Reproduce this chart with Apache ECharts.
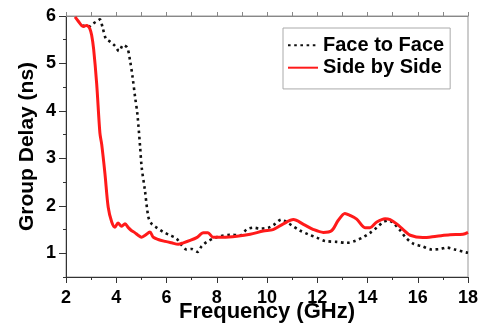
<html>
<head>
<script src="https://cdn.jsdelivr.net/npm/echarts@6/dist/echarts.min.js"></script>
<style>
  body { margin: 0; background: #fff; }
  #chart { width: 486px; height: 330px; }
</style>
</head>
<body>
<div id="chart"></div>
<script>
// Face to Face (dotted black)
var faceFreq = [2.65, 2.89, 3.08, 3.29, 3.35, 3.46, 3.59, 3.75, 3.95, 4.11, 4.28, 4.44, 4.55, 4.65, 4.75, 4.84, 4.95,
    5.01, 5.14, 5.28, 5.41, 5.61, 5.87, 6.14, 6.4, 6.6, 6.8, 7.0, 7.24, 7.4, 7.6, 7.86, 8.13, 8.53, 8.93, 9.19, 9.46,
    9.72, 10.05, 10.25, 10.58, 10.78, 10.98, 11.31, 11.64, 11.98, 12.31, 12.78, 13.17, 13.5, 13.83, 14.1, 14.37,
    14.63, 14.83, 15.03, 15.3, 15.56, 15.83, 16.16, 16.56, 16.89, 17.15, 17.48, 17.82, 18.0];
var faceDelay = [5.8, 5.77, 5.84, 5.91, 5.93, 5.75, 5.52, 5.46, 5.37, 5.26, 5.39, 5.33, 5.06, 4.71, 4.29, 3.94, 3.24,
    2.82, 2.33, 1.76, 1.62, 1.54, 1.45, 1.38, 1.31, 1.17, 1.08, 1.09, 1.03, 1.15, 1.24, 1.31, 1.36, 1.39, 1.38, 1.5, 1.54,
    1.52, 1.54, 1.59, 1.71, 1.66, 1.59, 1.48, 1.4, 1.33, 1.26, 1.24, 1.22, 1.26, 1.34, 1.43, 1.54,
    1.66, 1.69, 1.64, 1.48, 1.31, 1.2, 1.15, 1.08, 1.09, 1.12, 1.08, 1.03, 1.01];

// Side by Side (solid red)
var sideFreq = [2.36, 2.49, 2.62, 2.69, 2.82, 2.89, 2.95, 3.02, 3.1, 3.22, 3.35, 3.42, 3.55, 3.68, 3.82, 3.95,
    4.07, 4.2, 4.35, 4.48, 4.6, 4.75, 4.87, 5.0, 5.15, 5.34, 5.47, 5.67, 5.95, 6.2, 6.47, 6.67, 6.94, 7.2, 7.47,
    7.65, 7.85, 8.25, 8.8, 9.33, 9.85, 10.24, 10.65, 11.05, 11.45, 11.85, 12.24, 12.58, 12.83, 13.1, 13.3, 13.57,
    13.9, 14.1, 14.37, 14.7, 14.9, 15.16, 15.42, 15.7, 16.2, 16.75, 17.28, 17.8, 18.0];
var sideDelay = [5.98, 5.89, 5.8, 5.78, 5.8, 5.78, 5.73, 5.6, 5.3, 4.58, 3.53, 3.3, 2.68, 1.97, 1.66, 1.55,
    1.64, 1.57, 1.62, 1.54, 1.48, 1.43, 1.38, 1.34, 1.38, 1.45, 1.34, 1.29, 1.25, 1.22, 1.19, 1.22, 1.27, 1.33, 1.43,
    1.43, 1.34, 1.34, 1.36, 1.4, 1.47, 1.5, 1.62, 1.71, 1.61, 1.5, 1.44, 1.48, 1.69, 1.84, 1.8, 1.72,
    1.54, 1.54, 1.66, 1.73, 1.71, 1.62, 1.5, 1.38, 1.33, 1.36, 1.39, 1.4, 1.44];

var yMajor = [1, 2, 3, 4, 5, 6];

function pairs(xs, ys) {
    return xs.map(function (x, i) { return [x, ys[i]]; });
}

var font = 'Liberation Sans, Arial, sans-serif';
var chart = echarts.init(document.getElementById('chart'));
var option = {
    animation: false,
    grid: {
        left: 66, right: 18, top: 16, bottom: 53,
        outerBoundsMode: 'none', containLabel: false,
        show: true, borderColor: '#999', borderWidth: 1
    },
    legend: {
        orient: 'vertical',
        left: 283,
        top: 28,
        itemWidth: 30,
        itemHeight: 14,
        itemGap: -12,
        padding: [0, 6, 4, 4],
        borderColor: '#aaa',
        borderWidth: 1,
        itemStyle: { color: 'transparent', borderColor: 'transparent', borderWidth: 0 },
        textStyle: { fontFamily: font, fontWeight: 'bold', fontSize: 20, lineHeight: 20, color: '#000' },
        data: ['Face to Face', 'Side by Side']
    },
    xAxis: [{
        type: 'value',
        min: 2, max: 18, interval: 2,
        name: 'Frequency (GHz)',
        nameLocation: 'middle',
        nameGap: 16,
        nameMoveOverlap: false,
        nameTextStyle: { fontFamily: font, fontWeight: 'bold', fontSize: 22, color: '#000' },
        axisLine: { lineStyle: { color: '#333', width: 1 } },
        axisTick: { length: 6, lineStyle: { color: '#333' } },
        minorTick: { show: true, splitNumber: 2, length: 3, lineStyle: { color: '#333' } },
        axisLabel: { fontFamily: font, fontWeight: 'bold', fontSize: 18, color: '#000', margin: 6 },
        splitLine: { show: false },
        minorSplitLine: { show: false }
    }, {
        type: 'value',
        position: 'top',
        min: 2, max: 18, interval: 1,
        axisLine: { lineStyle: { color: '#888' } },
        axisTick: { length: 4, lineStyle: { color: '#888' } },
        axisLabel: { show: false },
        splitLine: { show: false }
    }],
    yAxis: [{
        type: 'value',
        min: 0.5, max: 6,
        name: 'Group Delay (ns)',
        nameLocation: 'middle',
        nameGap: 21,
        nameMoveOverlap: false,
        nameTextStyle: { fontFamily: font, fontWeight: 'bold', fontSize: 21, color: '#000' },
        axisLine: { show: true, lineStyle: { color: '#333', width: 1 } },
        axisTick: { show: true, length: 7, customValues: yMajor, lineStyle: { color: '#333' } },
        axisLabel: {
            fontFamily: font, fontWeight: 'bold', fontSize: 18, color: '#000', margin: 10,
            customValues: yMajor
        },
        splitLine: { show: false }
    }, {
        type: 'value',
        position: 'left',
        min: 0.5, max: 6, interval: 0.5,
        axisLine: { show: false },
        axisTick: { show: true, length: 3, lineStyle: { color: '#333' } },
        axisLabel: { show: false },
        splitLine: { show: false }
    }],
    series: [{
        name: 'Face to Face',
        type: 'line',
        data: pairs(faceFreq, faceDelay),
        symbol: 'none',
        smooth: 0.3,
        clip: true,
        lineStyle: { color: '#111', width: 2.6, type: [2.6, 3.6], cap: 'butt' },
        itemStyle: { color: '#111' }
    }, {
        name: 'Side by Side',
        type: 'line',
        data: pairs(sideFreq, sideDelay),
        symbol: 'none',
        smooth: 0.3,
        clip: true,
        lineStyle: { color: '#ff1a1a', width: 3 },
        itemStyle: { color: '#ff1a1a' }
    }]
};
chart.setOption(option);
</script>
</body>
</html>
